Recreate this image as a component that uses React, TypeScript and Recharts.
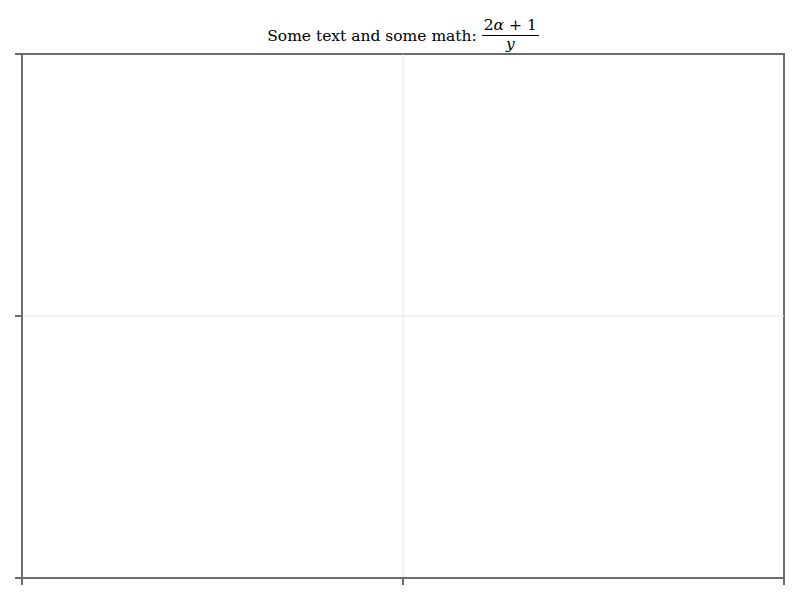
import { LineChart, Line, XAxis, YAxis, ReferenceLine, ReferenceArea } from "recharts";

const xTicks = [0, 0.5, 1];
const yTicks = [0, 0.5, 1];
const gridX = [0.5];
const gridY = [0.5];
const points = xTicks.map((x) => ({ x, y: null as number | null }));

const axisColor = "#6b6b6b";
const gridColor = "#e6e6e6";

const NoLabel = () => <g />;

function Title() {
  return (
    <div
      style={{
        position: "absolute",
        left: 0,
        top: 16,
        width: 806,
        display: "flex",
        justifyContent: "center",
        alignItems: "center",
        fontFamily: "'DejaVu Serif', serif",
        fontSize: 15.5,
        color: "#000",
      }}
    >
      <span style={{ position: "relative", top: 1 }}>Some text and some math:&nbsp;</span>
      <span style={{ display: "inline-flex", flexDirection: "column", alignItems: "center" }}>
        <span style={{ padding: "0 2px", lineHeight: "19px" }}>
          2<i>α</i> + 1
        </span>
        <span style={{ borderTop: "1px solid #000", alignSelf: "stretch" }} />
        <span style={{ lineHeight: "17px", fontStyle: "italic" }}>y</span>
      </span>
    </div>
  );
}

export default function App() {
  return (
    <div style={{ position: "absolute", left: 0, top: 0, width: 800, height: 600, background: "#fff" }}>
      <Title />
      <LineChart
        width={800}
        height={600}
        data={points}
        margin={{ top: 54, right: 16, bottom: 16, left: 15 }}
      >
        {gridX.map((v) => (
          <ReferenceLine key={"gx" + v} x={v} stroke={gridColor} strokeWidth={1} ifOverflow="visible" />
        ))}
        {gridY.map((v) => (
          <ReferenceLine key={"gy" + v} y={v} stroke={gridColor} strokeWidth={1} ifOverflow="visible" />
        ))}
        <ReferenceArea
          x1={0}
          x2={1}
          y1={0}
          y2={1}
          fill="none"
          fillOpacity={0}
          stroke={axisColor}
          strokeWidth={2}
          ifOverflow="visible"
        />
        <XAxis
          dataKey="x"
          type="number"
          domain={[0, 1]}
          allowDataOverflow
          ticks={xTicks}
          tick={NoLabel}
          height={6}
          stroke={axisColor}
          strokeWidth={2}
          tickSize={7}
        />
        <YAxis
          type="number"
          domain={[0, 1]}
          allowDataOverflow
          ticks={yTicks}
          tick={NoLabel}
          width={7}
          stroke={axisColor}
          strokeWidth={2}
          tickSize={7}
        />
        <Line dataKey="y" isAnimationActive={false} stroke="#1f77b4" dot={false} />
      </LineChart>
    </div>
  );
}
